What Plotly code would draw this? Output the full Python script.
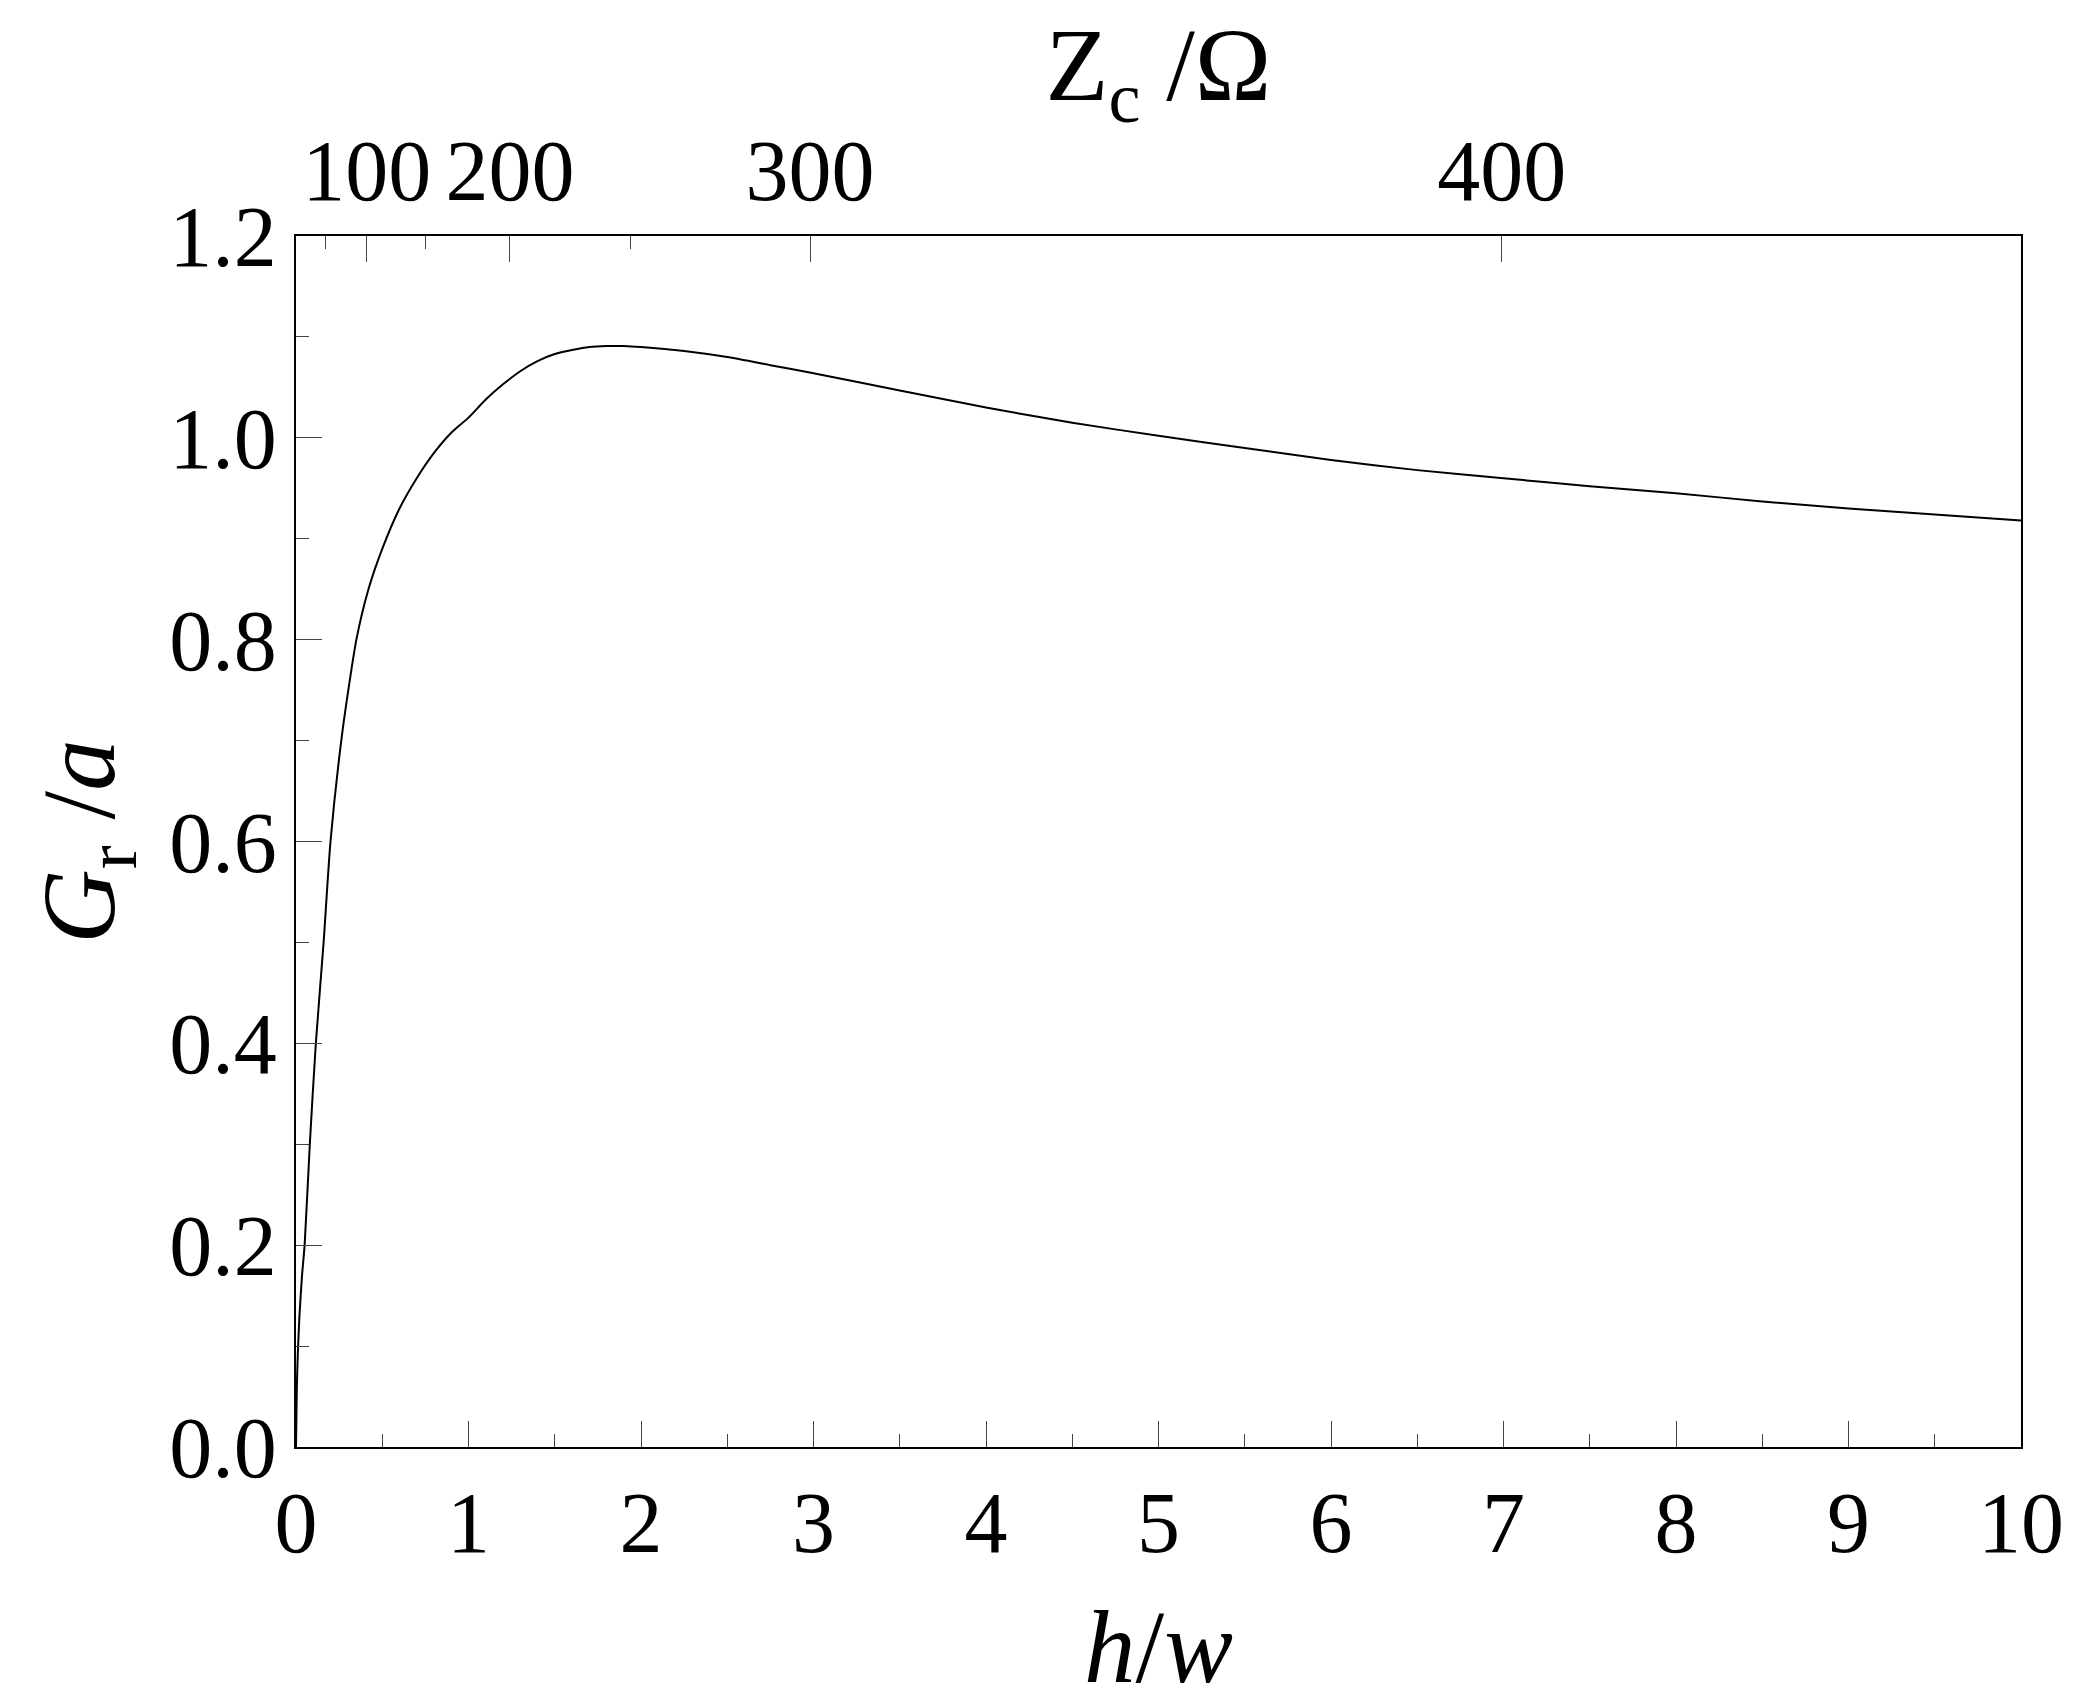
import plotly.graph_objects as go

hw = [0, 0.005, 0.01, 0.02, 0.035, 0.05, 0.08, 0.115, 0.16, 0.2, 0.27, 0.35, 0.42, 0.5, 0.6, 0.7, 0.8, 0.9, 1.0,
      1.1, 1.2, 1.3, 1.4, 1.5, 1.6, 1.7, 1.8, 1.9, 2.0, 2.25, 2.5, 2.75, 3.0, 3.5, 4.0, 4.5, 5.0, 5.5, 6.0, 6.5,
      7.0, 7.5, 8.0, 8.5, 9.0, 9.5, 10.0]
gr = [0, 0.06, 0.09, 0.13, 0.17, 0.2, 0.3, 0.4, 0.5, 0.6, 0.71, 0.8, 0.85, 0.89, 0.93, 0.96, 0.985, 1.005, 1.02,
      1.038, 1.053, 1.066, 1.076, 1.083, 1.087, 1.09, 1.091, 1.091, 1.09, 1.086, 1.08, 1.072, 1.064, 1.047, 1.03,
      1.015, 1.002, 0.99, 0.978, 0.968, 0.96, 0.952, 0.945, 0.937, 0.93, 0.924, 0.918]

zc_pos = [0.41, 1.24, 2.98, 6.99]
zc_text = ["100", "200", "300", "400"]
zc_minor = [0.17, 0.75, 1.94]

F = "Liberation Serif"
fig = go.Figure()
fig.add_trace(go.Scatter(x=hw, y=gr, mode="lines", line=dict(color="black", width=2, shape="spline", smoothing=0.6),
                         showlegend=False))
fig.add_trace(go.Scatter(x=[None], y=[None], xaxis="x2", showlegend=False))
fig.add_trace(go.Scatter(x=[None], y=[None], xaxis="x3", showlegend=False))

fig.update_layout(
    width=2084, height=1699, plot_bgcolor="white", paper_bgcolor="white",
    margin=dict(l=288, r=71, t=220, b=260),
    font=dict(family=F, size=86, color="black"),
    xaxis=dict(range=[0, 10], tickvals=list(range(11)), ticks="inside", ticklen=26, tickwidth=1,
               minor=dict(dtick=0.5, ticks="inside", ticklen=13, tickwidth=1),
               showline=True, linewidth=2, linecolor="black", mirror=False, showgrid=False, zeroline=False,
               title=dict(text="<i>h</i>/<i>w</i>", standoff=40)),
    xaxis2=dict(range=[0, 10], overlaying="x", side="top", tickvals=zc_pos, ticktext=zc_text,
                ticks="inside", ticklen=26, tickwidth=1, showline=True, linewidth=2, linecolor="black",
                showgrid=False, zeroline=False, title=dict(text="Z<sub>c</sub> /Ω", standoff=30)),
    xaxis3=dict(range=[0, 10], overlaying="x", side="top", tickvals=zc_minor, showticklabels=False,
                ticks="inside", ticklen=13, tickwidth=1, showgrid=False, zeroline=False, showline=False),
    yaxis=dict(range=[0, 1.2], tickvals=[0, 0.2, 0.4, 0.6, 0.8, 1.0, 1.2], tickformat=".1f",
               ticks="inside", ticklen=26, tickwidth=1,
               minor=dict(dtick=0.1, ticks="inside", ticklen=13, tickwidth=1),
               showline=True, linewidth=2, linecolor="black", mirror=True, showgrid=False, zeroline=False,
               title=dict(text="<i>G</i><sub>r</sub> /<i>a</i>", standoff=20)),
)
fig.write_html("out.html")
